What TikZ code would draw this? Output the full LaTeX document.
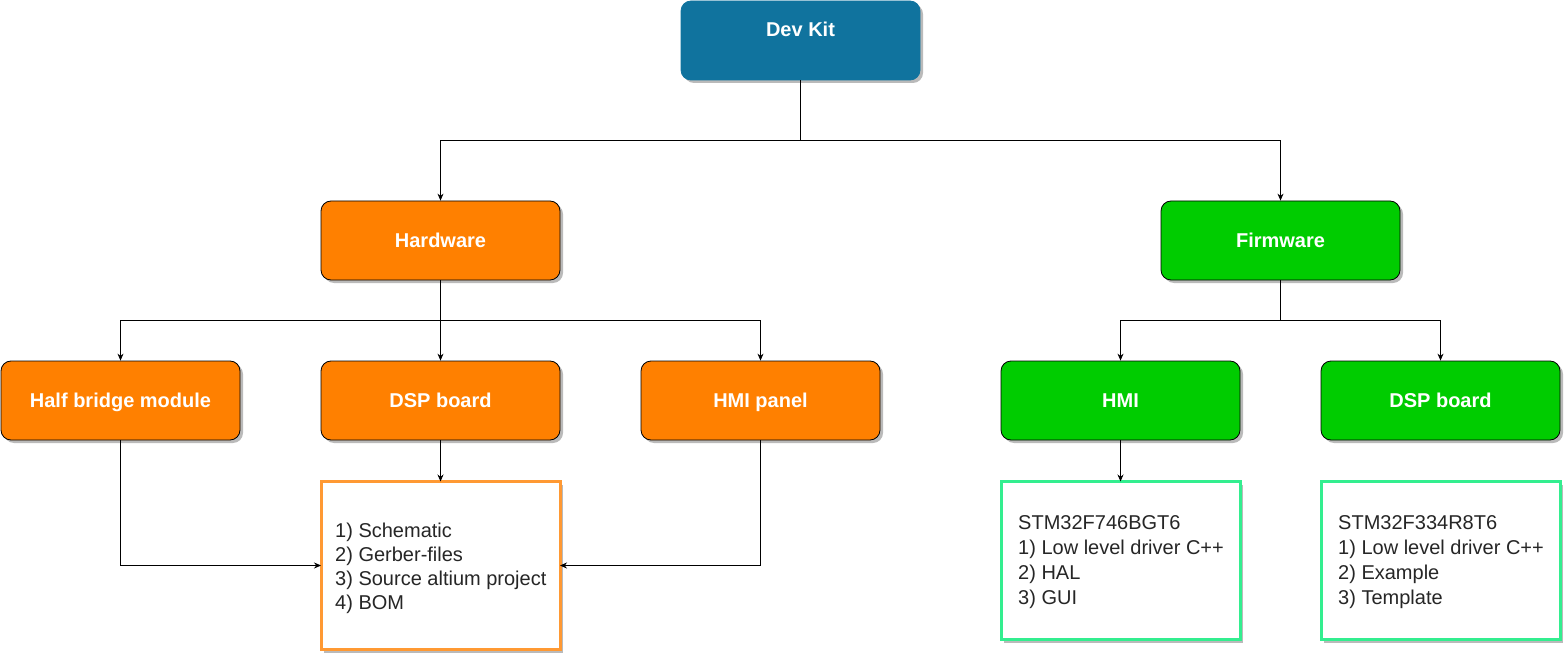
\documentclass[tikz,border=0pt]{standalone}
\usepackage{fontspec}
\setmainfont{Liberation Sans}
\usetikzlibrary{arrows.meta,shadows,positioning}
\definecolor{devblue}{HTML}{10739E}
\definecolor{hworange}{HTML}{FF8000}
\definecolor{fwgreen}{HTML}{00CC00}
\definecolor{oborder}{HTML}{FF9933}
\definecolor{gborder}{HTML}{33EE8F}
\definecolor{txtgray}{HTML}{262626}
\tikzset{
  x=1pt, y=-1pt,
  shade/.style={drop shadow={shadow xshift=3pt, shadow yshift=-3pt, fill=black!45, opacity=0.6}},
  catbox/.style={rounded corners=10pt, minimum width=239pt, minimum height=79pt, draw=black, line width=0.8pt,
     text=white, font=\bfseries\fontsize{20}{24}\selectfont, shade, inner sep=0pt,
     text height=14.5pt, text depth=0pt},
  hwbox/.style={catbox, fill=hworange},
  fwbox/.style={catbox, fill=fwgreen},
  listframe/.style={minimum width=239pt, fill=white, line width=3pt, shade, inner sep=0pt, outer sep=0pt},
  listtext/.style={align=left, text=txtgray, font=\fontsize{20}{24}\selectfont, inner sep=0pt, anchor=west},
  greentext/.style={listtext, font=\fontsize{20}{25}\selectfont},
  conn/.style={draw=black, line width=0.8pt, -{Stealth[length=7pt,width=6pt]}},
}
\begin{document}
\begin{tikzpicture}
\useasboundingbox (0,0) rectangle (1564,655);
% top
\node[catbox, fill=devblue, draw=devblue] (devkit) at (800.5,40.5) {};
\node[text=white, font=\bfseries\fontsize{20}{24}\selectfont] (devkittext) at (800.5,29) {Dev Kit};
% level 2
\node[hwbox] (hardware) at (440.5,240.5) {Hardware};
\node[fwbox] (firmware) at (1280.5,240.5) {Firmware};
% level 3
\node[hwbox] (halfbridge) at (120.5,400.5) {Half bridge module};
\node[hwbox] (dspboard) at (440.5,400.5) {DSP board};
\node[hwbox] (hmipanel) at (760.5,400.5) {HMI panel};
\node[fwbox] (hmi) at (1120.5,400.5) {HMI};
\node[fwbox] (fwdsp) at (1440.5,400.5) {DSP board};
% list boxes
\node[listframe, draw=oborder, minimum height=168pt] (hwlist) at (440.5,565.5) {};
\node[listtext] (hwlisttext) at (335,568.5)
  {1) Schematic\\2) Gerber-files\\3) Source altium project\\4) BOM};
\node[listframe, draw=gborder, minimum height=158pt] (hmilist) at (1120.5,560.5) {};
\node[greentext] (hmilisttext) at (1018,562)
  {STM32F746BGT6\\1) Low level driver C++\\2) HAL\\3) GUI};
\node[listframe, draw=gborder, minimum height=158pt] (dsplist) at (1440.5,560.5) {};
\node[greentext] (dsplisttext) at (1338,562)
  {STM32F334R8T6\\1) Low level driver C++\\2) Example\\3) Template};
% connectors
\draw[conn] (devkit.south) -- ++(0,60) -| (hardware.north);
\draw[conn] (devkit.south) -- ++(0,60) -| (firmware.north);
\draw[conn] (hardware.south) -- ++(0,40) -| (halfbridge.north);
\draw[conn] (hardware.south) -- (dspboard.north);
\draw[conn] (hardware.south) -- ++(0,40) -| (hmipanel.north);
\draw[conn] (firmware.south) -- ++(0,40) -| (hmi.north);
\draw[conn] (firmware.south) -- ++(0,40) -| (fwdsp.north);
\draw[conn] (dspboard.south) -- (hwlist.north);
\draw[conn] (halfbridge.south) |- (hwlist.west);
\draw[conn] (hmipanel.south) |- (hwlist.east);
\draw[conn] (hmi.south) -- (hmilist.north);
\end{tikzpicture}
\end{document}
